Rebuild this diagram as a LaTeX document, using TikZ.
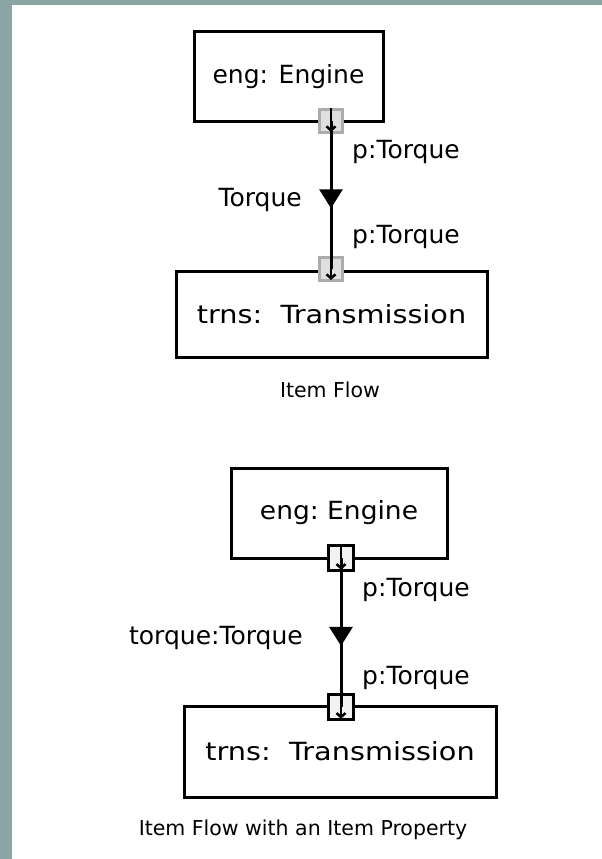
\documentclass[tikz,border=0pt]{standalone}
\usepackage{fontspec}
\usepackage{graphicx}
\setmainfont{DejaVu Sans}
\usetikzlibrary{arrows.meta,decorations.markings}
\definecolor{framegrey}{RGB}{139,165,165}

\tikzset{
  block/.style={draw,line width=3pt,rectangle,inner sep=0pt,font=\fontsize{25}{30}\selectfont},
  portbox/.style={draw=gray!65,fill=gray!25,line width=3pt,minimum size=23pt,inner sep=0pt},
  propport/.style={draw=black,fill=gray!10,line width=2.5pt,minimum size=25pt,inner sep=0pt},
  portarrow/.style={line width=2.5pt,shorten >=2pt,-{Straight Barb[length=4pt,width=9pt]}},
  flow/.style={line width=3pt,postaction={decorate},
    decoration={markings,mark=at position 0.59 with {\arrow{Triangle[width=23pt,length=19pt]}}}},
  lbl/.style={inner sep=0pt,font=\fontsize{25}{30}\selectfont},
  caption/.style={inner sep=0pt,font=\fontsize{20.5}{25}\selectfont}
}

\begin{document}
\begin{tikzpicture}[x=10pt,y=-10pt]
\useasboundingbox (0,0) rectangle (60.2,85.9);
\fill[white] (0,0) rectangle (60.2,85.9);
\fill[framegrey] (0,0) rectangle (1.2,85.9);
\fill[framegrey] (0,0) rectangle (60.2,0.5);

% item flow
\node[block,minimum width=189pt,minimum height=89pt] (eng) at (28.85,7.65) {eng: Engine};
\node[block,minimum width=311pt,minimum height=86pt] (trns) at (33.15,31.4) {\scalebox{1.15}[1]{trns:\ \ Transmission}};
\node[portbox] (engp) at (33.1,12.1) {};
\node[portbox] (trnsp) at (33.1,26.9) {};
\draw[flow] (engp.center) -- (trnsp.center);
\draw[portarrow] (engp.north) -- (engp.south);
\draw[portarrow] (trnsp.north) -- (trnsp.south);
\node[lbl,anchor=west] (pout) at (35.2,15.2) {p:Torque};
\node[lbl,anchor=east] (item) at (30.2,20.0) {Torque};
\node[lbl,anchor=west] (pin) at (35.2,23.7) {p:Torque};
\node[caption] (cap) at (33.0,39.0) {Item Flow};

% item flow with an item property
\node[block,minimum width=216pt,minimum height=90pt] (eng2) at (33.9,51.3) {\scalebox{1.06}[1]{eng:\ Engine}};
\node[block,minimum width=312pt,minimum height=91pt] (trns2) at (34.0,75.15) {\scalebox{1.15}[1]{trns:\ \ Transmission}};
\node[propport] (engp2) at (34.1,55.8) {};
\node[propport] (trnsp2) at (34.1,70.7) {};
\draw[flow] (engp2.center) -- (trnsp2.center);
\draw[portarrow] (engp2.north) -- (engp2.south);
\draw[portarrow] (trnsp2.north) -- (trnsp2.south);
\node[lbl,anchor=west] (pout2) at (36.2,59.0) {p:Torque};
\node[lbl,anchor=east] (item2) at (30.3,63.8) {torque:Torque};
\node[lbl,anchor=west] (pin2) at (36.2,67.8) {p:Torque};
\node[caption] (cap2) at (30.3,83.0) {Item Flow with an Item Property};
\end{tikzpicture}
\end{document}
